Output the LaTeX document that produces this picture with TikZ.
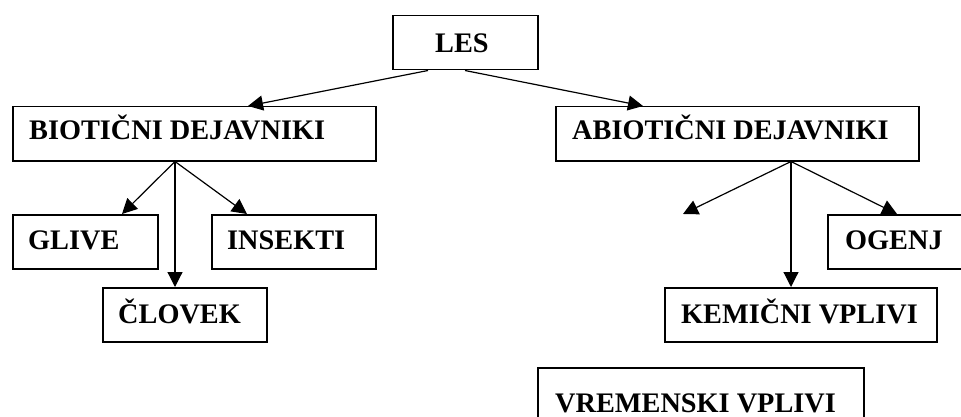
\documentclass[tikz,border=0pt]{standalone}
\usepackage{fontspec}
\setmainfont{Liberation Serif}
\usetikzlibrary{arrows.meta}
\begin{document}
\begin{tikzpicture}[x=1pt,y=-1pt,
  box/.style={draw, line width=1.5pt, anchor=north west, inner sep=0pt, minimum height=54pt},
  lbl/.style={anchor=base west, inner sep=0pt, font=\fontsize{28.3}{30}\selectfont\bfseries},
  conn/.style={line width=1.2pt, -{Triangle[length=15pt,width=15pt]}}]
\useasboundingbox (0,0) rectangle (961,417);
\clip (0,0) rectangle (961,417);
% boxes
\node[box, minimum width=145pt] (les) at (392,15) {};
\node[box, minimum width=363pt] (bio) at (12,106) {};
\node[box, minimum width=363pt] (abio) at (555,106) {};
\node[box, minimum width=145pt] (glive) at (12,214) {};
\node[box, minimum width=164pt] (insekti) at (211,214) {};
\node[box, minimum width=164pt] (clovek) at (102,287) {};
\node[box, minimum width=160pt] (ogenj) at (827,214) {};
\node[box, minimum width=272pt] (kem) at (664,287) {};
\node[box, minimum width=326pt, minimum height=70pt] (vrem) at (537,367) {};
% labels
\node[lbl] (lesT) at (435,53) {LES};
\node[lbl] (bioT) at (29,140) {BIOTIČNI DEJAVNIKI};
\node[lbl] (abioT) at (572,140) {ABIOTIČNI DEJAVNIKI};
\node[lbl] (gliveT) at (28,249) {GLIVE};
\node[lbl] (insektiT) at (227,249) {INSEKTI};
\node[lbl] (clovekT) at (118,323) {ČLOVEK};
\node[lbl] (ogenjT) at (845,249) {OGENJ};
\node[lbl] (kemT) at (681,323) {KEMIČNI VPLIVI};
\node[lbl] (vremT) at (555,412) {VREMENSKI VPLIVI};
% connectors
\coordinate (free) at (683,214);
\draw[conn] ([xshift=36pt]les.south west) -- ([xshift=236pt]bio.north west);
\draw[conn] ([xshift=73pt]les.south west) -- ([xshift=88pt]abio.north west);
\draw[conn] ([xshift=163pt]bio.south west) -- ([xshift=110pt]glive.north west);
\draw[conn] ([xshift=163pt]bio.south west) -- ([xshift=73pt]clovek.north west);
\draw[conn] ([xshift=163pt]bio.south west) -- ([xshift=36pt]insekti.north west);
\draw[conn] ([xshift=236pt]abio.south west) -- (free);
\draw[conn] ([xshift=236pt]abio.south west) -- ([xshift=127pt]kem.north west);
\draw[conn] ([xshift=236pt]abio.south west) -- ([xshift=70pt]ogenj.north west);
\end{tikzpicture}
\end{document}
